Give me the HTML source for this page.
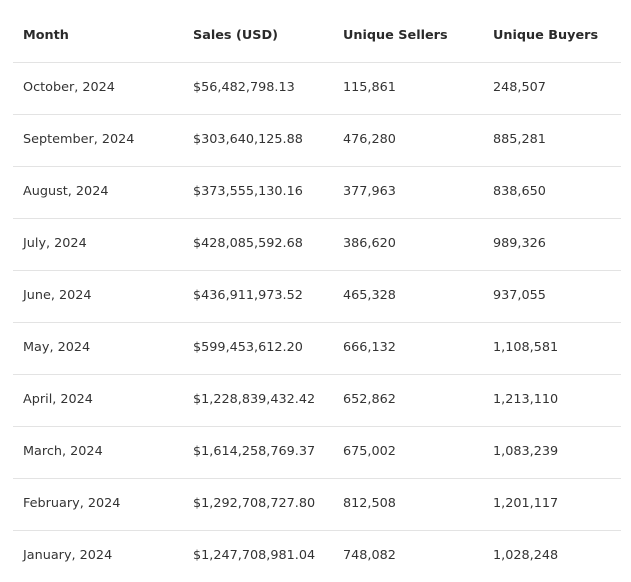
<!DOCTYPE html>
<html><head><meta charset="utf-8"><style>
body{margin:0;width:631px;height:582px;background:#fff;overflow:hidden;font-family:"DejaVu Sans","Liberation Sans",sans-serif;font-size:12.8px;color:#333;}
.row{position:absolute;left:13px;width:608px;height:52px;border-bottom:1px solid #e3e3e3;}
.c{position:absolute;top:0;line-height:52px;white-space:nowrap;}
.h .c{font-weight:bold;color:#2a2a2a;}
</style></head><body>
<div id="t"></div>
<script>
const months=["October, 2024","September, 2024","August, 2024","July, 2024","June, 2024","May, 2024","April, 2024","March, 2024","February, 2024","January, 2024"];
const sales=["$56,482,798.13","$303,640,125.88","$373,555,130.16","$428,085,592.68","$436,911,973.52","$599,453,612.20","$1,228,839,432.42","$1,614,258,769.37","$1,292,708,727.80","$1,247,708,981.04"];
const sellers=["115,861","476,280","377,963","386,620","465,328","666,132","652,862","675,002","812,508","748,082"];
const buyers=["248,507","885,281","838,650","989,326","937,055","1,108,581","1,213,110","1,083,239","1,201,117","1,028,248"];
const headers=["Month","Sales (USD)","Unique Sellers","Unique Buyers"];
const xs=[10,180,330,480];
const t=document.getElementById('t');
function mk(vals,top,isH,i){
  const r=document.createElement('div');
  r.className='row'+(isH?' h':'');
  r.style.top=top+'px';
  
  
  if(!isH&&i===months.length-1)r.style.borderBottom='none';
  vals.forEach((v,j)=>{const c=document.createElement('div');c.className='c';c.style.left=xs[j]+'px';c.textContent=v;
    
    
    r.appendChild(c);});
  t.appendChild(r);
}
mk(headers,10,true,0);
months.forEach((m,i)=>mk([m,sales[i],sellers[i],buyers[i]],62+i*52,false,i));
</script>
</body></html>
